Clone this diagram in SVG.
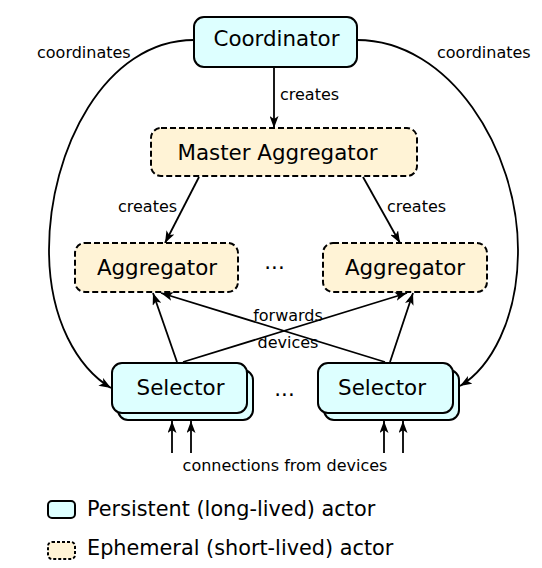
<svg xmlns="http://www.w3.org/2000/svg" width="542" height="568" viewBox="0 0 542 568">
<defs>
<marker id="arr" viewBox="0 0 12 9" markerWidth="12" markerHeight="9" refX="12" refY="4.5" orient="auto" markerUnits="userSpaceOnUse">
<path d="M0,0 L12,4.5 L0,9 L3,4.5 z" fill="#000"/>
</marker>
<style>
.pers{fill:#ddffff;stroke:#000;stroke-width:2}
.eph{fill:#fff3d6;stroke:#000;stroke-width:2;stroke-dasharray:6,3}
.nt{font-family:"DejaVu Sans",sans-serif;font-size:21.4px;fill:#000;text-anchor:middle}
.lt{font-family:"DejaVu Sans",sans-serif;font-size:16px;fill:#000}
.legt{font-family:"DejaVu Sans",sans-serif;font-size:20.8px;fill:#000}
.c{fill:none;stroke:#000;stroke-width:1.8;marker-end:url(#arr)}
</style>
</defs>
<rect width="542" height="568" fill="#fff"/>
<g id="connectors">
<line class="c" x1="274" y1="67" x2="274" y2="128"/>
<line class="c" x1="199" y1="177" x2="165" y2="243"/>
<line class="c" x1="363" y1="177" x2="400" y2="243"/>
<line class="c" x1="177" y1="362" x2="153" y2="293"/>
<line class="c" x1="183" y1="362" x2="407" y2="293"/>
<line class="c" x1="385" y1="362" x2="161" y2="293"/>
<line class="c" x1="390" y1="362" x2="413" y2="293"/>
<path class="c" d="M194,40 C105,40 49,150 49,250 C49,320 78,368 111,388"/>
<path class="c" d="M357,40 C450,40 518,150 518,250 C518,320 490,368 460,386"/>
<line class="c" x1="172" y1="453" x2="172" y2="421"/>
<line class="c" x1="191" y1="453" x2="191" y2="421"/>
<line class="c" x1="384" y1="453" x2="384" y2="421"/>
<line class="c" x1="403" y1="453" x2="403" y2="421"/>
<text class="lt" x="280" y="100">creates</text>
<text class="lt" x="118" y="212">creates</text>
<text class="lt" x="387" y="212">creates</text>
<text class="lt" x="288" y="321" text-anchor="middle">forwards</text>
<text class="lt" x="288" y="348" text-anchor="middle">devices</text>
<text class="lt" x="37" y="58">coordinates</text>
<text class="lt" x="437" y="58">coordinates</text>
<text class="lt" x="285" y="471" text-anchor="middle">connections from devices</text>
</g>
<g id="coordinator">
<rect class="pers" x="194" y="17" width="163" height="50" rx="10"/>
<text class="nt" x="276.5" y="46">Coordinator</text>
</g>
<g id="master-aggregator">
<rect class="eph" x="151" y="128" width="266" height="48" rx="10"/>
<text class="nt" x="277.5" y="160">Master Aggregator</text>
</g>
<g id="aggregator-left">
<rect class="eph" x="75" y="243" width="163" height="49" rx="10"/>
<text class="nt" x="157" y="275">Aggregator</text>
</g>
<g id="aggregator-right">
<rect class="eph" x="323" y="243" width="164" height="49" rx="10"/>
<text class="nt" x="405" y="275">Aggregator</text>
</g>
<text class="nt" x="274.5" y="269">...</text>
<g id="selector-left">
<rect class="pers" x="118" y="370" width="135" height="50" rx="10"/>
<rect class="pers" x="112" y="363" width="135" height="50" rx="10"/>
<text class="nt" x="180.5" y="395">Selector</text>
</g>
<g id="selector-right">
<rect class="pers" x="324" y="370" width="135" height="50" rx="10"/>
<rect class="pers" x="318" y="363" width="135" height="50" rx="10"/>
<text class="nt" x="382" y="395">Selector</text>
</g>
<text class="nt" x="284.5" y="396">...</text>
<g id="legend">
<rect class="pers" x="48" y="501" width="27" height="17" rx="4"/>
<text class="legt" x="87" y="516">Persistent (long-lived) actor</text>
<rect class="eph" x="48" y="542" width="27" height="17" rx="4" style="stroke-dasharray:3,2"/>
<text class="legt" x="87" y="555">Ephemeral (short-lived) actor</text>
</g>
</svg>
